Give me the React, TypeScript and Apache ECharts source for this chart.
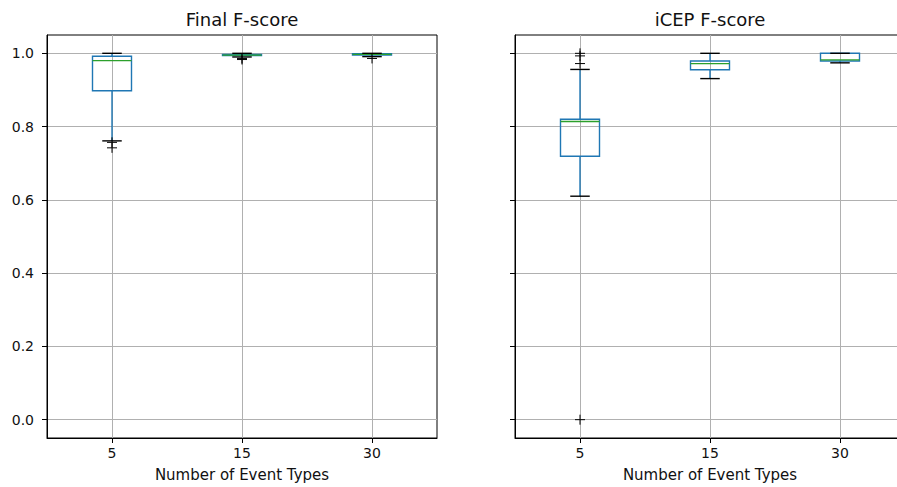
import React, { useEffect, useRef } from "react";
import * as echarts from "echarts";

const categories = ["5", "15", "30"];
const yTicks = [0, 0.2, 0.4, 0.6, 0.8, 1.0];
// [lower whisker, Q1, median, Q3, upper whisker]
const finalStats = [
  [0.761, 0.898, 0.98, 0.992, 1.0],
  [0.99, 0.994, 0.995, 0.997, 1.0],
  [0.991, 0.995, 0.997, 0.999, 1.0],
];
const finalOutliers = [
  [0, 0.757],
  [0, 0.742],
  [1, 0.986],
  [1, 0.983],
  [2, 0.986],
];
const icepStats = [
  [0.61, 0.719, 0.814, 0.82, 0.956],
  [0.931, 0.955, 0.972, 0.979, 1.0],
  [0.974, 0.979, 0.982, 1.0, 1.0],
];
const icepOutliers = [
  [0, 1.0],
  [0, 0.993],
  [0, 0.972],
  [0, 0.0],
];

const FONT = "DejaVu Sans";
const BOX_W = 0.3;

function boxRender(params: any, api: any) {
  const x = api.value(0);
  const low = api.coord([x, api.value(1)]);
  const q1 = api.coord([x, api.value(2)]);
  const med = api.coord([x, api.value(3)]);
  const q3 = api.coord([x, api.value(4)]);
  const high = api.coord([x, api.value(5)]);
  const hw = api.size([BOX_W, 0])[0] / 2;
  const cx = low[0];
  const blue = { stroke: "#1f77b4", lineWidth: 1.4, fill: "none" };
  const black = { stroke: "#000", lineWidth: 1.4 };
  return {
    type: "group",
    children: [
      { type: "rect", shape: { x: cx - hw, y: q3[1], width: 2 * hw, height: q1[1] - q3[1] }, style: blue },
      { type: "line", shape: { x1: cx, y1: q1[1], x2: cx, y2: low[1] }, style: blue },
      { type: "line", shape: { x1: cx, y1: q3[1], x2: cx, y2: high[1] }, style: blue },
      { type: "line", shape: { x1: cx - hw, y1: med[1], x2: cx + hw, y2: med[1] }, style: { stroke: "#2ca02c", lineWidth: 1.4 } },
      { type: "line", shape: { x1: cx - hw / 2, y1: low[1], x2: cx + hw / 2, y2: low[1] }, style: black },
      { type: "line", shape: { x1: cx - hw / 2, y1: high[1], x2: cx + hw / 2, y2: high[1] }, style: black },
    ],
  };
}

function flierRender(params: any, api: any) {
  const p = api.coord([api.value(0), api.value(1)]);
  const s = 5;
  const st = { stroke: "#000", lineWidth: 1 };
  return {
    type: "group",
    children: [
      { type: "line", shape: { x1: p[0] - s, y1: p[1], x2: p[0] + s, y2: p[1] }, style: st },
      { type: "line", shape: { x1: p[0], y1: p[1] - s, x2: p[0], y2: p[1] + s }, style: st },
    ],
  };
}

function makeX(idx: number) {
  return {
    type: "value",
    gridIndex: idx,
    min: 0.5,
    max: 3.5,
    name: "Number of Event Types",
    nameLocation: "middle",
    nameGap: 29,
    nameTextStyle: { fontFamily: FONT, fontSize: 15, color: "#111" },
    axisLine: { show: true, onZero: false, lineStyle: { color: "#000", width: 1 } },
    axisTick: { show: true, length: 5, lineStyle: { color: "#000" }, customValues: [1, 2, 3] },
    axisLabel: {
      show: true,
      margin: 8,
      fontFamily: FONT,
      fontSize: 14,
      color: "#111",
      customValues: [1, 2, 3],
      formatter: (v: number) => categories[Math.round(v) - 1] ?? "",
    },
    splitLine: { show: true, lineStyle: { color: "#b0b0b0", width: 1 } },
  };
}

function makeY(idx: number, labels: boolean) {
  return {
    type: "value",
    gridIndex: idx,
    min: -0.05,
    max: 1.05,
    axisLine: { show: true, onZero: false, lineStyle: { color: "#000", width: 1 } },
    axisTick: { show: true, length: 5, lineStyle: { color: "#000" }, customValues: yTicks },
    axisLabel: {
      show: labels,
      margin: 13,
      fontFamily: FONT,
      fontSize: 14,
      color: "#111",
      customValues: yTicks,
      formatter: (v: number) => v.toFixed(1),
    },
    splitLine: { show: true, lineStyle: { color: "#b0b0b0", width: 1 } },
  };
}

export default function App() {
  const ref = useRef<HTMLDivElement>(null);
  useEffect(() => {
    if (!ref.current) return;
    const chart = echarts.init(ref.current, null, { renderer: "svg" });
    const toBox = (arr: number[][]) => arr.map((s, i) => [i + 1, ...s]);
    const toFlier = (arr: number[][]) => arr.map((o) => [o[0] + 1, o[1]]);
    const gridBase = {
      top: 35,
      width: 390,
      height: 403,
      show: true,
      borderColor: "#000",
      borderWidth: 1,
      backgroundColor: "transparent",
      containLabel: false,
      outerBoundsMode: "none",
    };
    chart.setOption({
      animation: false,
      backgroundColor: "#fff",
      grid: [
        { ...gridBase, left: 47 },
        { ...gridBase, left: 515 },
      ],
      xAxis: [makeX(0), makeX(1)],
      yAxis: [makeY(0, true), makeY(1, false)],
      graphic: [
        { type: "text", x: 242, y: 19, style: { text: "Final F-score", textAlign: "center", textVerticalAlign: "middle", font: `18px '${FONT}'`, fill: "#111" } },
        { type: "text", x: 710, y: 19, style: { text: "iCEP F-score", textAlign: "center", textVerticalAlign: "middle", font: `18px '${FONT}'`, fill: "#111" } },
      ],
      series: [
        { type: "custom", xAxisIndex: 0, yAxisIndex: 0, renderItem: boxRender, data: toBox(finalStats), encode: { x: 0, y: [1, 2, 3, 4, 5] } },
        { type: "custom", xAxisIndex: 0, yAxisIndex: 0, renderItem: flierRender, data: toFlier(finalOutliers), encode: { x: 0, y: 1 } },
        { type: "custom", xAxisIndex: 1, yAxisIndex: 1, renderItem: boxRender, data: toBox(icepStats), encode: { x: 0, y: [1, 2, 3, 4, 5] } },
        { type: "custom", xAxisIndex: 1, yAxisIndex: 1, renderItem: flierRender, data: toFlier(icepOutliers), encode: { x: 0, y: 1 } },
      ],
    });
    return () => chart.dispose();
  }, []);
  return (
    <div style={{ position: "fixed", left: 0, top: 0, width: 897, height: 487, overflow: "hidden", background: "#fff" }}>
      <div ref={ref} style={{ width: 920, height: 487 }} />
    </div>
  );
}
